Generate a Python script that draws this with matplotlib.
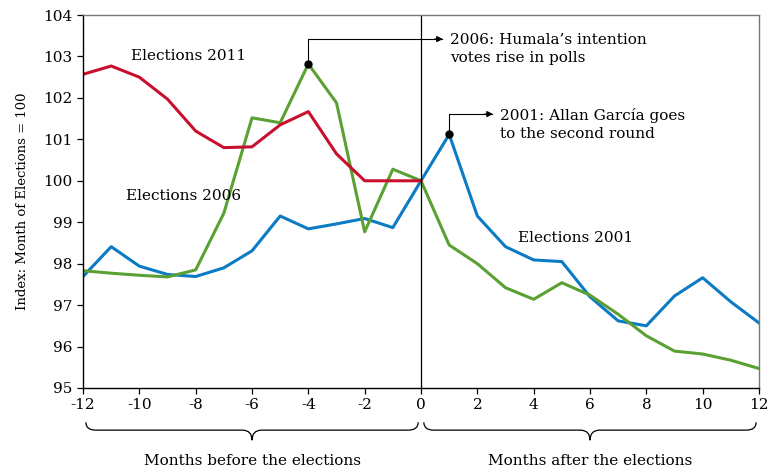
import numpy as np
import matplotlib
matplotlib.use("Agg")
import matplotlib.pyplot as plt
from matplotlib.path import Path
from matplotlib.patches import PathPatch
import matplotlib.transforms as mtransforms

plt.rcParams['font.family'] = ['DejaVu Serif']
plt.rcParams['axes.unicode_minus'] = False

# Months relative to the election month
months_before = list(range(-12, 1))
months_all = list(range(-12, 13))

# Index: month of elections = 100
elections_2011 = [102.57, 102.77, 102.50, 101.97, 101.20, 100.80, 100.82,
                  101.35, 101.67, 100.65, 100.00, 100.00, 100.00]
elections_2006 = [97.83, 97.77, 97.72, 97.68, 97.85, 99.22, 101.52, 101.40,
                  102.82, 101.88, 98.77, 100.28, 100.00, 98.45, 98.00, 97.42,
                  97.14, 97.54, 97.24, 96.78, 96.26, 95.89, 95.82, 95.67, 95.47]
elections_2001 = [97.69, 98.41, 97.94, 97.74, 97.69, 97.90, 98.31, 99.15,
                  98.84, 98.96, 99.09, 98.87, 100.00, 101.12, 99.15, 98.41,
                  98.09, 98.05, 97.20, 96.62, 96.50, 97.22, 97.66, 97.08, 96.57]

x_ticks = list(range(-12, 13, 2))
y_ticks = list(range(95, 105))

RED = '#C8102E'
GREEN = '#5BA033'
BLUE = '#0A7BC4'
FS = 11

fig = plt.figure(figsize=(7.71, 4.70), dpi=100)
ax = fig.add_axes([0.1077, 0.1745, 0.8767, 0.7935])

ax.plot(months_all, elections_2001, color=BLUE, lw=2.2)
ax.plot(months_all, elections_2006, color=GREEN, lw=2.2)
ax.plot(months_before, elections_2011, color=RED, lw=2.2)

ax.axvline(0, color='black', lw=0.9)

ax.set_xlim(-12, 12)
ax.set_ylim(95, 104)
ax.set_xticks(x_ticks)
ax.set_yticks(y_ticks)
ax.tick_params(labelsize=FS, direction='out', length=4, width=0.9, colors='black')
for side in ['left', 'bottom']:
    ax.spines[side].set_color('black')
    ax.spines[side].set_linewidth(1.0)
for side in ['top', 'right']:
    ax.spines[side].set_color('#777777')
    ax.spines[side].set_linewidth(1.0)

ax.set_ylabel('Index: Month of Elections = 100', fontsize=9.5, labelpad=10)

# series labels
ax.text(-8.25, 103.02, 'Elections 2011', fontsize=FS, ha='center', va='center')
ax.text(-8.43, 99.63, 'Elections 2006', fontsize=FS, ha='center', va='center')
ax.text(5.5, 98.62, 'Elections 2001', fontsize=FS, ha='center', va='center')


def elbow_note(xp, yp, y_top, x_end, x_text, text):
    """Dot on the series, elbow line up and right, arrow head, two-line note."""
    ax.plot([xp], [yp], 'o', color='black', ms=5, zorder=5)
    ax.plot([xp, xp, x_end - 0.05], [yp, y_top, y_top], color='black', lw=0.8)
    ax.annotate('', xy=(x_end, y_top), xytext=(x_end - 0.3, y_top),
                arrowprops=dict(arrowstyle='-|>', color='black', lw=0.8,
                                mutation_scale=9, shrinkA=0, shrinkB=0))
    ax.text(x_text, y_top + 0.15, text, fontsize=FS, ha='left', va='top',
            linespacing=1.35)


elbow_note(-4, elections_2006[8], 103.42, 0.78, 1.03,
           "2006: Humala\u2019s intention\nvotes rise in polls")
elbow_note(1, elections_2001[13], 101.61, 2.56, 2.80,
           "2001: Allan Garc\u00eda goes\nto the second round")

# braces under the x axis
trans = mtransforms.blended_transform_factory(ax.transData, ax.transAxes)


def brace(x0, x1, y_end=-0.092, y_mid=-0.113, y_tip=-0.140):
    xm = (x0 + x1) / 2
    d = 0.35
    verts = [(x0, y_end),
             (x0, y_mid), (x0 + d, y_mid),
             (xm - d, y_mid),
             (xm, y_mid), (xm, y_tip),
             (xm, y_mid), (xm + d, y_mid),
             (x1 - d, y_mid),
             (x1, y_mid), (x1, y_end)]
    codes = [Path.MOVETO,
             Path.CURVE3, Path.CURVE3,
             Path.LINETO,
             Path.CURVE3, Path.CURVE3,
             Path.CURVE3, Path.CURVE3,
             Path.LINETO,
             Path.CURVE3, Path.CURVE3]
    ax.add_patch(PathPatch(Path(verts, codes), transform=trans, fill=False,
                           lw=0.9, color='black', clip_on=False))


brace(-11.9, -0.1)
brace(0.1, 11.9)
ax.text(-6, -0.195, 'Months before the elections', transform=trans,
        fontsize=FS, ha='center', va='center')
ax.text(6, -0.195, 'Months after the elections', transform=trans,
        fontsize=FS, ha='center', va='center')

fig.savefig('out.png', dpi=100)
